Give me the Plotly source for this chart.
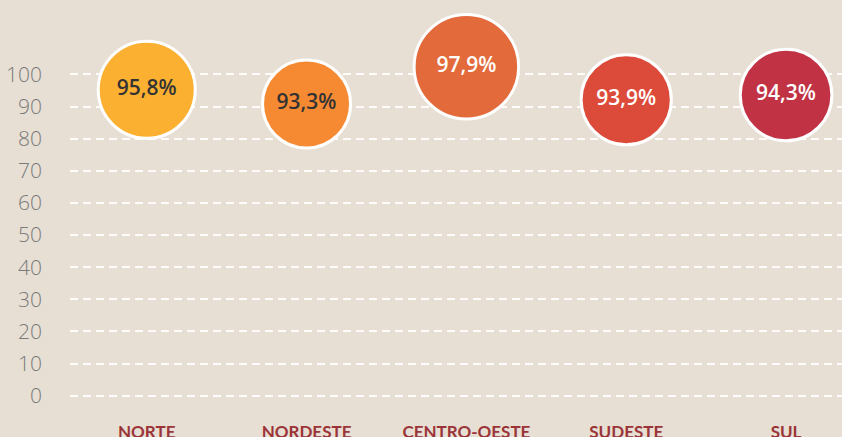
import plotly.graph_objects as go

regions = ["NORTE", "NORDESTE", "CENTRO-OESTE", "SUDESTE", "SUL"]
values = [95.8, 93.3, 97.9, 93.9, 94.3]
bubble_y = [95.2, 90.8, 102.4, 92.1, 93.6]
colors = ["#fbb032", "#f68a33", "#e36a3b", "#dc4a3a", "#c03244"]
text_colors = ["#333333", "#333333", "#ffffff", "#ffffff", "#ffffff"]
y_ticks = list(range(0, 101, 10))

labels = [f"{v:.1f}".replace(".", ",") + "%" for v in values]
sizes = [88 + (v - 93.3) * 3.6 for v in values]

fig = go.Figure()
fig.add_trace(go.Scatter(
    x=regions, y=bubble_y, mode="markers+text",
    text=labels, textposition="middle center",
    textfont=dict(family="Open Sans", size=21, color=text_colors, weight=600),
    marker=dict(size=sizes, color=colors, line=dict(color="white", width=3), opacity=1),
    cliponaxis=False, hoverinfo="skip", showlegend=False,
))

fig.update_layout(
    width=842, height=437,
    paper_bgcolor="#e7dfd4", plot_bgcolor="#e7dfd4",
    margin=dict(l=70, r=0, t=5, b=32, autoexpand=False),
)
fig.update_xaxes(
    type="category", range=[-0.48, 4.35], showgrid=False, zeroline=False,
    showline=False, ticks="", ticklabelstandoff=15, automargin=False,
    tickfont=dict(family="Lato", size=17, color="#9b3438", weight=700),
)
fig.update_yaxes(
    range=[-2.9, 121.6], tickvals=y_ticks, showgrid=True, automargin=False,
    gridcolor="rgba(255,255,255,0.9)", gridwidth=2, griddash="8px,5px",
    zeroline=False, showline=False, ticks="", ticklabelstandoff=27,
    tickfont=dict(family="Open Sans", size=21, color="#7a7a7a", weight=300),
)

fig.write_html(
    "out.html",
    config={"displayModeBar": False},
    post_script="document.body.style.margin='0';document.body.style.overflow='hidden';",
)
